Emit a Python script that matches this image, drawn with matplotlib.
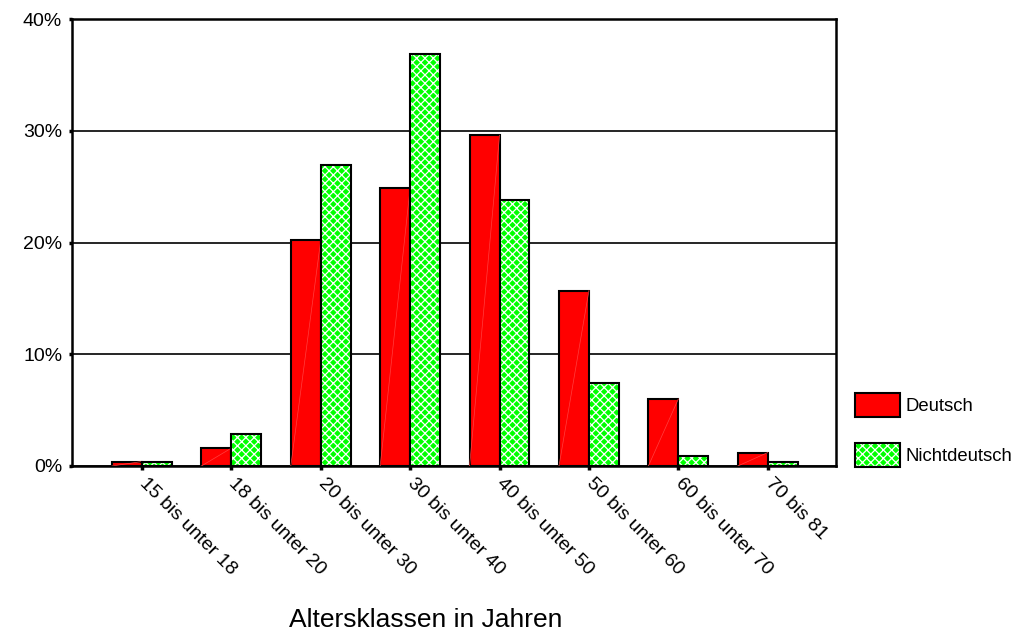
import numpy as np
import matplotlib
matplotlib.use("Agg")
import matplotlib.pyplot as plt
from matplotlib.patches import Patch
from matplotlib.legend_handler import HandlerTuple

plt.rcParams['font.family'] = ['Liberation Sans', 'DejaVu Sans']
plt.rcParams['hatch.linewidth'] = 0.9

# Altersklassen und Anteile in Prozent
klassen = ["15 bis unter 18", "18 bis unter 20", "20 bis unter 30", "30 bis unter 40",
           "40 bis unter 50", "50 bis unter 60", "60 bis unter 70", "70 bis 81"]
deutsch = [0.4, 1.6, 20.2, 24.9, 29.6, 15.7, 6.0, 1.2]
nichtdeutsch = [0.4, 2.9, 26.9, 36.9, 23.8, 7.4, 0.9, 0.4]
yticks = [0, 10, 20, 30, 40]

rot = "#ff0000"
gruen = "#00ff00"
w = 0.335

fig = plt.figure(figsize=(10.15, 6.34), dpi=100)
ax = fig.add_axes([0.0709, 0.265, 0.7527, 0.705])

x = np.arange(len(klassen))

# Deutsch: rot mit feiner Diagonale
ax.bar(x - w / 2, deutsch, width=w, color=rot, edgecolor="black", linewidth=1.5, zorder=3)
for xi, h in zip(x, deutsch):
    ax.plot([xi - w, xi], [0, h], color="#ff4040", lw=0.5, zorder=3.5)

# Nichtdeutsch: gruen mit weissem Gittermuster
ax.bar(x + w / 2, nichtdeutsch, width=w, color=gruen, edgecolor="white", hatch="xxxx",
       linewidth=0, zorder=3)
ax.bar(x + w / 2, nichtdeutsch, width=w, fill=False, edgecolor="black", linewidth=1.5, zorder=4)

ax.set_xlim(-0.783, 7.763)
ax.set_ylim(0, 40)
ax.set_yticks(yticks)
ax.set_yticklabels([f"{v}%" for v in yticks], fontsize=14)
ax.yaxis.grid(True, color="black", lw=1.2, zorder=1)
ax.set_axisbelow(True)

ax.set_xticks(x)
ax.set_xticklabels(klassen, rotation=-45, ha="left", va="center", rotation_mode="anchor",
                   fontsize=14)
ax.tick_params(axis="x", direction="out", length=3, width=2.5, pad=8)
ax.tick_params(axis="y", direction="out", length=2, width=2.5, pad=5)

for s in ax.spines.values():
    s.set_linewidth(1.8)

fig.text(426 / 1015, 7 / 634, "Altersklassen in Jahren", ha="center", va="baseline",
         fontsize=19)

h_de = Patch(facecolor=rot, edgecolor="black", linewidth=1.5)
h_nd_fill = Patch(facecolor=gruen, edgecolor="white", hatch="xxxx", linewidth=0)
h_nd_rand = Patch(fill=False, edgecolor="black", linewidth=1.5)
fig.legend([h_de, (h_nd_fill, h_nd_rand)], ["Deutsch", "Nichtdeutsch"],
           handler_map={tuple: HandlerTuple(ndivide=1, pad=0)},
           loc="upper left", bbox_to_anchor=(855 / 1015, 1 - 393 / 634),
           frameon=False, fontsize=13.3, borderpad=0, borderaxespad=0,
           handlelength=2.43, handleheight=1.62, labelspacing=1.4, handletextpad=0.32)

fig.savefig("out.png", dpi=100, facecolor="white")
